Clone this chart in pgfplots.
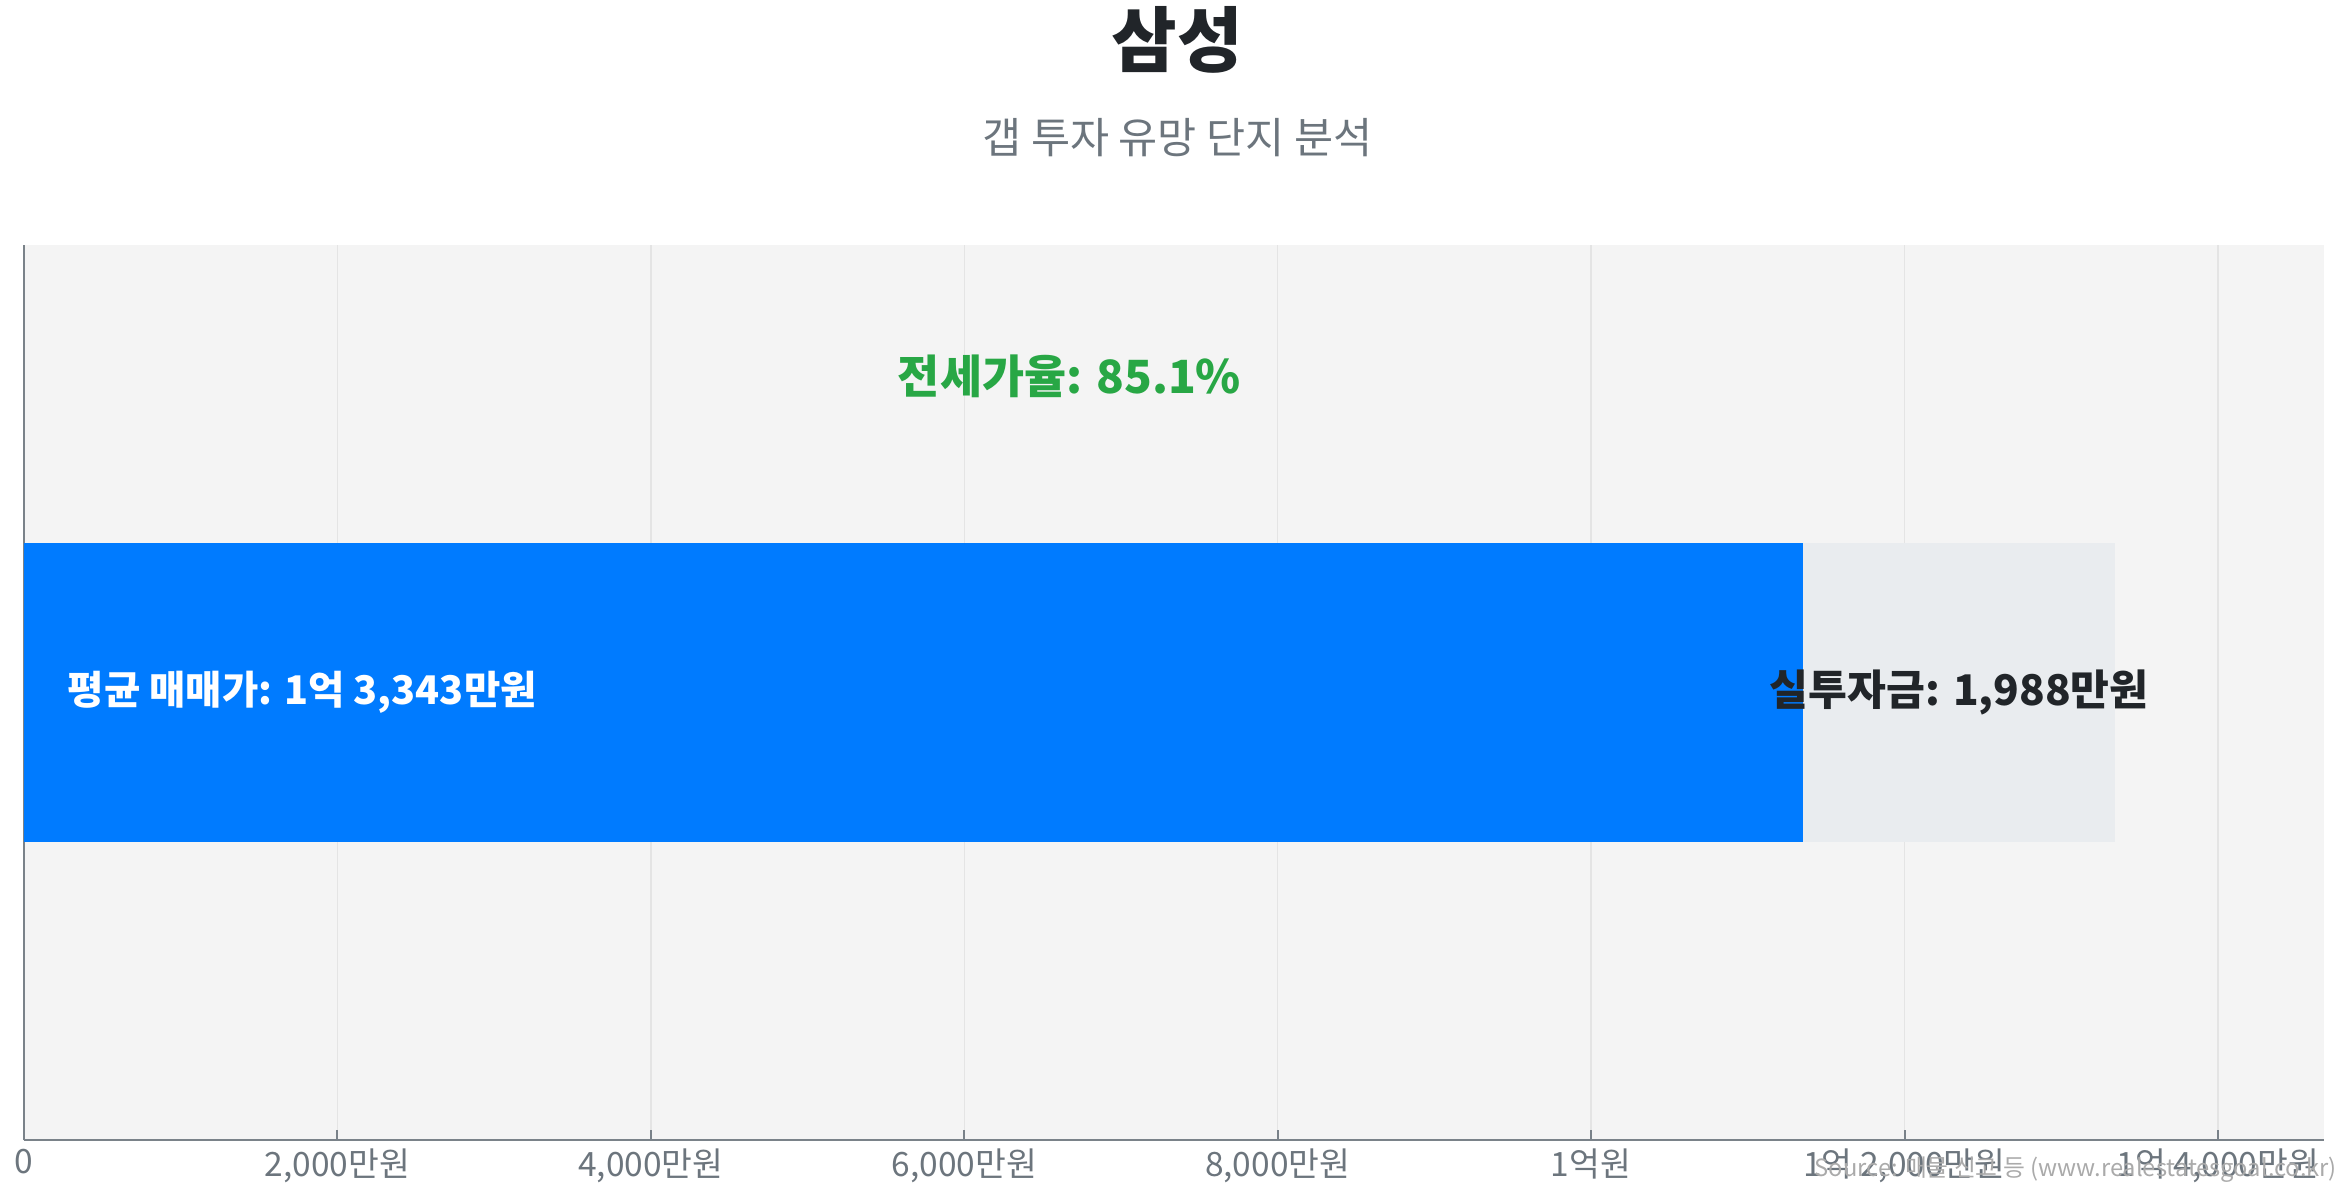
\documentclass[border=0pt]{standalone}
\usepackage{pgfplots}
\pgfplotsset{compat=1.18}
\usepackage{fontspec}
\setmainfont{Noto Sans CJK KR}

\definecolor{barblue}{HTML}{007BFF}
\definecolor{gapgray}{HTML}{E9ECEF}
\definecolor{plotbg}{HTML}{F4F4F4}
\definecolor{gridc}{HTML}{E4E4E4}
\definecolor{axisc}{HTML}{7A8289}
\definecolor{titlec}{HTML}{212529}
\definecolor{subc}{HTML}{6C757D}
\definecolor{greenc}{HTML}{28A745}
\definecolor{srcc}{HTML}{AAAAAA}

\begin{document}
\begin{tikzpicture}
\path[use as bounding box] (0,0) rectangle (938pt,480pt);
\begin{axis}[
scale only axis,
width=920pt, height=358pt,
at={(9.6pt,24pt)}, anchor=south west,
xmin=0, xmax=14677,
ymin=-1.5, ymax=1.5,
axis background/.style={fill=plotbg},
axis x line*=bottom,
axis y line*=left,
axis line style={axisc, line width=1pt},
ytick=\empty,
xtick={0,2000,4000,6000,8000,10000,12000,14000},
xticklabels={0,2{,}000만원,4{,}000만원,6{,}000만원,8{,}000만원,1억원,1억 2{,}000만원,1억 4{,}000만원},
xticklabel style={font=\fontsize{13.4}{15}\selectfont, text=subc},
xmajorgrids=true,
grid style={gridc, line width=0.6pt},
major tick length=4pt,
tick style={axisc, line width=0.8pt},
xbar stacked,
bar width=1,
]
\addplot[fill=barblue, draw=none] coordinates {(11355,0)};
\addplot[fill=gapgray, draw=none] coordinates {(1988,0)};
\coordinate (ratio) at (axis cs:6671.5,1.06);
\coordinate (sale) at (axis cs:0,0);
\coordinate (gap) at (axis cs:12349,0);
\end{axis}
\node[text=greenc, font=\fontsize{18.3}{21}\selectfont\bfseries] at (ratio) {전세가율: 85.1\%};
\node[anchor=west, text=white, font=\fontsize{15.8}{18}\selectfont\bfseries] at ([xshift=14pt]sale) {평균 매매가: 1억 3,343만원};
\node[text=titlec, font=\fontsize{16.9}{19}\selectfont\bfseries] at (gap) {실투자금: 1,988만원};
\node[text=titlec, font=\fontsize{28.5}{32}\selectfont\bfseries] at (471pt,464pt) {삼성};
\node[text=subc, font=\fontsize{17}{20}\selectfont] at (471pt,424.8pt) {갭 투자 유망 단지 분석};
\node[anchor=east, text=srcc, font=\fontsize{9.5}{11}\selectfont, inner sep=0pt] at (935pt,12pt) {Source: 매물 신고 등 (www.realestatesgoal.co.kr)};
\end{tikzpicture}
\end{document}
